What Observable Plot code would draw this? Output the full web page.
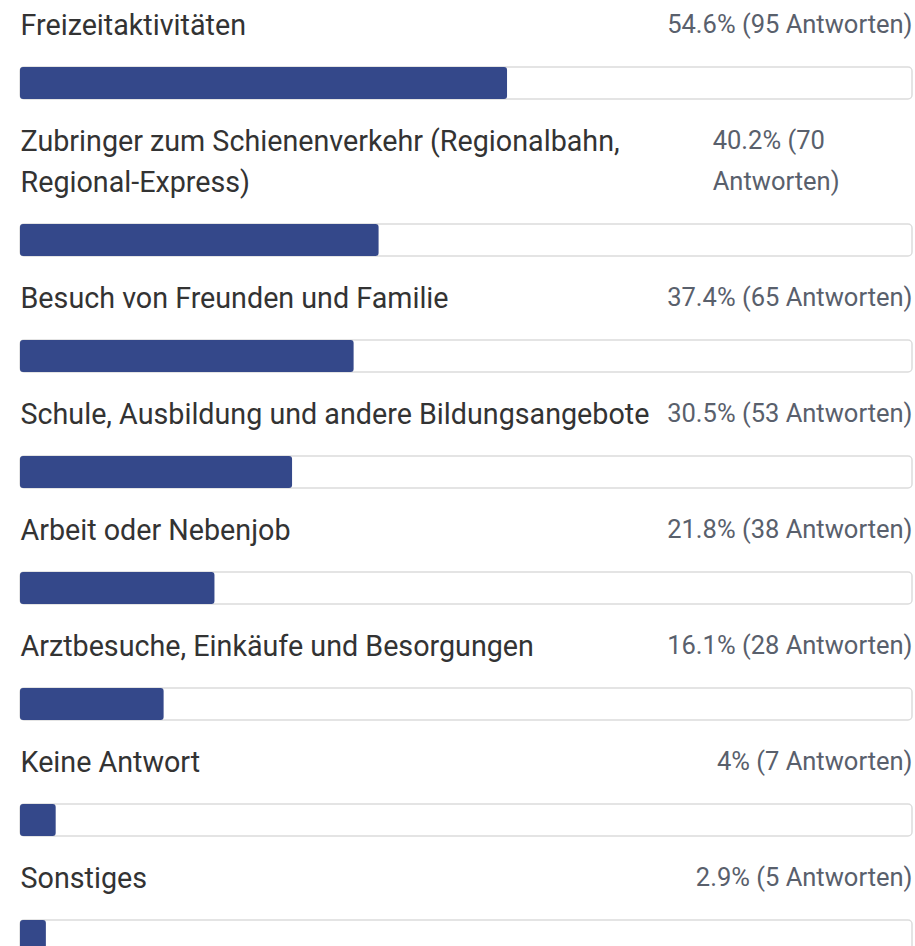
<!DOCTYPE html>
<html>
<head>
<meta charset="utf-8">
<script src="https://cdn.jsdelivr.net/npm/d3@7"></script>
<script src="https://cdn.jsdelivr.net/npm/@observablehq/plot@0.6"></script>
<style>
  html, body { margin: 0; padding: 0; background: #fff; }
  #chart { width: 915px; height: 946px; overflow: hidden; }
</style>
</head>
<body>
<div id="chart"></div>
<script>
const categories = [
  "Freizeitaktivitäten",
  "Zubringer zum Schienenverkehr (Regionalbahn,\nRegional-Express)",
  "Besuch von Freunden und Familie",
  "Schule, Ausbildung und andere Bildungsangebote",
  "Arbeit oder Nebenjob",
  "Arztbesuche, Einkäufe und Besorgungen",
  "Keine Antwort",
  "Sonstiges"
];
const percents = [54.6, 40.2, 37.4, 30.5, 21.8, 16.1, 4, 2.9];
const counts = [95, 70, 65, 53, 38, 28, 7, 5];
const unit = "Antworten";

// layout constants (pixels)
const W = 915, H = 946;
const LINE = 41;        // line spacing of wrapped labels
const BAR_OFF = 67;     // from row start to bar top
const BAR_H = 32;
const ROW_GAP = 49;     // from bar top to next row start
const LABEL_FS = 28.7, PCT_FS = 25.5;

const rows = [];
let start = 0;
categories.forEach((c, i) => {
  const lines = c.split("\n").length;
  const wrapped = lines > 1;
  const barTop = start + BAR_OFF + (lines - 1) * LINE;
  rows.push({
    label: c,
    pct: percents[i],
    n: counts[i],
    text: wrapped ? `${percents[i]}% (${counts[i]}\n${unit})` : `${percents[i]}% (${counts[i]} ${unit})`,
    wrapped,
    start,
    barTop,
    barBottom: barTop + BAR_H
  });
  start = barTop + ROW_GAP;
});

const chart = Plot.plot({
  width: W,
  height: H,
  margin: 0,
  style: { fontFamily: "Roboto, 'Liberation Sans', sans-serif", background: "#fff" },
  x: { domain: [0, 100], range: [20, 912], axis: null },
  y: { domain: [0, H], range: [0, H], axis: null },
  marks: [
    // track
    Plot.rectX(rows, {
      x1: 0, x2: 100, y1: "barTop", y2: "barBottom",
      fill: "#fff", stroke: "#dcdcdc", strokeWidth: 1.5, rx: 4, inset: 0
    }),
    // value bar
    Plot.rectX(rows, {
      x1: 0, x2: "pct", y1: "barTop", y2: "barBottom",
      fill: "#34488a", rx: 3, inset: 0
    }),
    // category label
    Plot.text(rows, {
      x: 0, y: d => d.start + 5, text: "label",
      textAnchor: "start", lineAnchor: "top", lineHeight: LINE / LABEL_FS,
      fontSize: LABEL_FS, fill: "#333"
    }),
    // percentage label (single line, right aligned)
    Plot.text(rows.filter(d => !d.wrapped), {
      x: 100, y: d => d.start + 3, text: "text",
      textAnchor: "end", lineAnchor: "top", lineHeight: LINE / PCT_FS,
      fontSize: PCT_FS, fill: "#59606c"
    }),
    // percentage label (wrapped, left aligned in its column)
    Plot.text(rows.filter(d => d.wrapped), {
      x: 77.6, y: d => d.start + 3, text: "text",
      textAnchor: "start", lineAnchor: "top", lineHeight: LINE / PCT_FS,
      fontSize: PCT_FS, fill: "#59606c"
    })
  ]
});
document.getElementById("chart").append(chart);
</script>
</body>
</html>
